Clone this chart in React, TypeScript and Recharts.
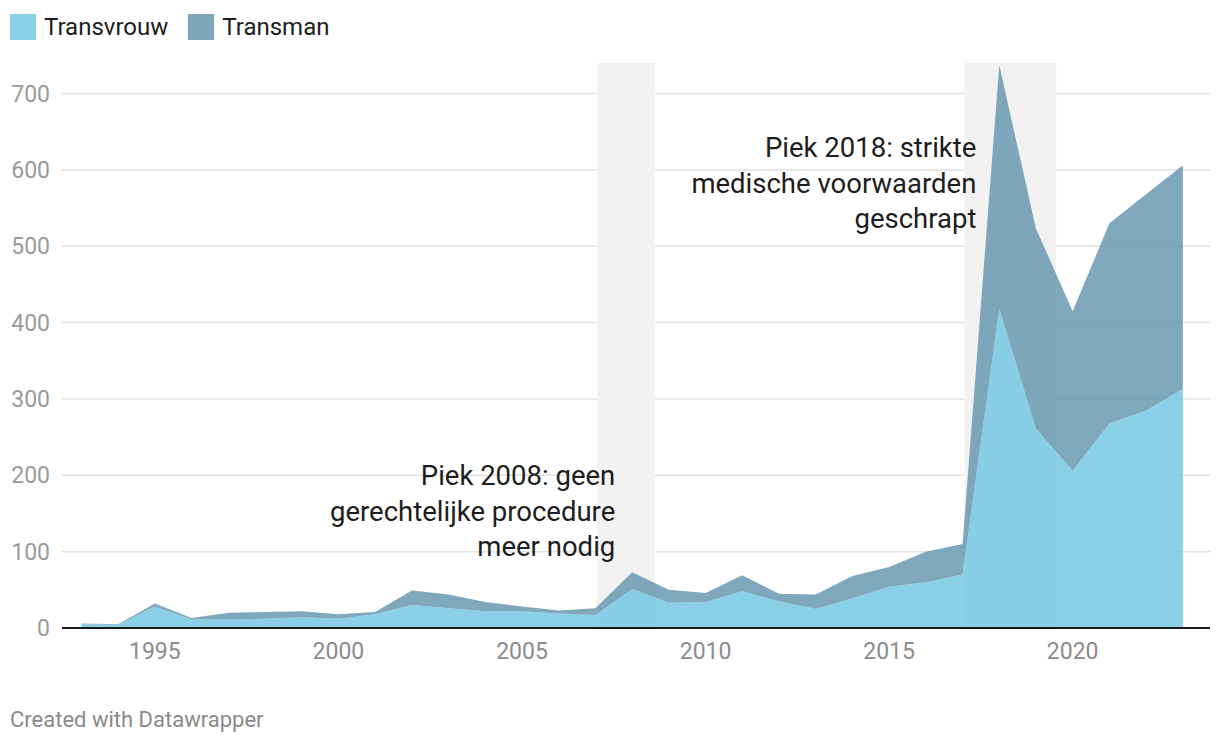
import React from "react";
import {
  AreaChart,
  Area,
  XAxis,
  YAxis,
  CartesianGrid,
  ReferenceArea,
} from "recharts";

const years = [
  1993, 1994, 1995, 1996, 1997, 1998, 1999, 2000, 2001, 2002, 2003, 2004, 2005, 2006, 2007, 2008,
  2009, 2010, 2011, 2012, 2013, 2014, 2015, 2016, 2017, 2018, 2019, 2020, 2021, 2022, 2023,
];
const transvrouw = [
  5, 4, 28, 11, 11, 12, 14, 12, 18, 30, 26, 22, 22, 19, 17, 51, 33, 34, 48, 35, 25, 39, 54, 60, 70,
  418, 261, 206, 268, 285, 313,
];
const transman = [
  1, 1, 4, 2, 9, 9, 8, 6, 3, 19, 18, 12, 6, 4, 9, 22, 17, 12, 21, 10, 19, 29, 26, 40, 40, 319, 262,
  209, 262, 283, 293,
];
const xTicks = [1995, 2000, 2005, 2010, 2015, 2020];
const yTicks = [0, 100, 200, 300, 400, 500, 600, 700];

const note2008 = ["Piek 2008: geen", "gerechtelijke procedure", "meer nodig"];
const note2018 = ["Piek 2018: strikte", "medische voorwaarden", "geschrapt"];

const data = years.map((year, i) => ({
  year,
  Transvrouw: transvrouw[i],
  Transman: transman[i],
}));

const LIGHT = "#75c8e3";
const DARK = "#6899b1";
const FONT = "Roboto, 'Noto Sans', sans-serif";

// multi-line note, right-aligned at the band's left edge
function BandNote(props: any) {
  const { viewBox, lines, top, dx } = props;
  if (!viewBox) return null;
  const x = viewBox.x + dx;
  return (
    <text
      x={x}
      y={viewBox.y + top}
      textAnchor="end"
      fill="#1d1d1d"
      fontSize={27.5}
      fontFamily={FONT}
    >
      {lines.map((l: string, i: number) => (
        <tspan key={l} x={x} dy={i === 0 ? 0 : 35.5}>
          {l}
        </tspan>
      ))}
    </text>
  );
}

function LegendItem({ color, label }: { color: string; label: string }) {
  return (
    <div style={{ display: "flex", alignItems: "center", marginRight: 20 }}>
      <div style={{ width: 26, height: 26, background: color, marginRight: 8 }} />
      <span style={{ fontSize: 24, color: "#1d1d1d" }}>{label}</span>
    </div>
  );
}

export default function App() {
  return (
    <div
      style={{
        position: "absolute",
        left: 0,
        top: 0,
        width: 1220,
        height: 744,
        background: "#fff",
        fontFamily: FONT,
      }}
    >
      <div style={{ position: "absolute", left: 10, top: 13, display: "flex" }}>
        <LegendItem color="#8ad0e7" label="Transvrouw" />
        <LegendItem color="#7fa7bc" label="Transman" />
      </div>

      <div style={{ position: "absolute", top: 0, left: 0 }}>
        <AreaChart
          width={1220}
          height={680}
          data={data}
          margin={{ top: 63, right: 10, bottom: 12, left: 0 }}
        >
          <CartesianGrid
            vertical={false}
            stroke="#e2e2e2"
            strokeWidth={1.5}
            horizontalValues={yTicks.slice(1)}
          />
          <ReferenceArea
            x1={2007.05}
            x2={2008.62}
            y1={0}
            y2={740}
            fill="#f2f2f2"
            fillOpacity={1}
            stroke="none"
            ifOverflow="hidden"
            label={<BandNote lines={note2008} top={422} dx={18} />}
          />
          <ReferenceArea
            x1={2017.05}
            x2={2019.55}
            y1={0}
            y2={740}
            fill="#f2f2f2"
            fillOpacity={1}
            stroke="none"
            ifOverflow="hidden"
            label={<BandNote lines={note2018} top={94} dx={12} />}
          />
          <XAxis
            dataKey="year"
            type="number"
            domain={[1992.47, 2023.74]}
            allowDataOverflow
            ticks={xTicks}
            tickLine={false}
            axisLine={{ stroke: "#1a1a1a", strokeWidth: 2 }}
            tick={{ fill: "#8c8c8c", fontSize: 23, fontFamily: FONT }}
            tickMargin={9}
            height={40}
          />
          <YAxis
            domain={[0, 740]}
            ticks={yTicks}
            allowDataOverflow
            axisLine={false}
            tickLine={false}
            tick={{ fill: "#9a9a9a", fontSize: 23, fontFamily: FONT }}
            tickMargin={6}
            width={62}
          />
          <Area
            type="linear"
            dataKey="Transvrouw"
            stackId="a"
            stroke="none"
            fill={LIGHT}
            fillOpacity={0.85}
            isAnimationActive={false}
          />
          <Area
            type="linear"
            dataKey="Transman"
            stackId="a"
            stroke="none"
            fill={DARK}
            fillOpacity={0.85}
            isAnimationActive={false}
          />
        </AreaChart>
      </div>

      <div style={{ position: "absolute", left: 10, top: 707, fontSize: 22, color: "#8a8a8a" }}>
        Created with Datawrapper
      </div>
    </div>
  );
}
